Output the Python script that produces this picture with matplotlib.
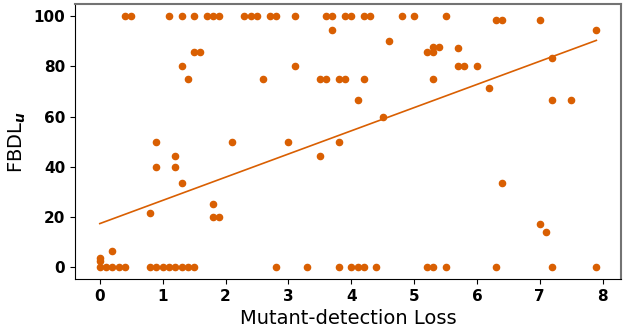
import numpy as np
import matplotlib.pyplot as plt

# Mutant-detection loss (x) vs FBDL_u (y), grouped by y level
loss_100 = [0.4, 0.5, 1.1, 1.3, 1.5, 1.7, 1.8, 1.9, 2.3, 2.4, 2.5, 2.7, 2.8, 3.1,
            3.6, 3.7, 3.9, 4.0, 4.2, 4.3, 4.8, 5.0, 5.5]
loss_0 = [0, 0.1, 0.2, 0.3, 0.4, 0.8, 0.9, 1.0, 1.1, 1.2, 1.3, 1.4, 1.5, 2.8, 3.3,
          3.8, 4.0, 4.1, 4.2, 4.4, 5.2, 5.3, 5.5, 6.3, 7.2, 7.9]
loss_other = [6.3, 6.4, 7.0, 3.7, 7.9, 4.6, 5.3, 5.4, 5.7, 1.5, 1.6, 5.2, 5.3, 7.2,
              1.3, 3.1, 5.7, 5.8, 6.0, 1.4, 2.6, 3.5, 3.6, 3.8, 3.9, 4.2, 5.3,
              6.2, 4.1, 7.2, 7.5, 4.5, 0.9, 2.1, 3.0, 3.8, 1.2, 3.5, 0.9, 1.2,
              1.3, 6.4, 1.8, 0.8, 1.8, 1.9, 7.0, 7.1, 0.2, 0, 0]
fbdl_other = [98.5, 98.5, 98.5, 94.7, 94.7, 90, 87.8, 87.8, 87.5, 85.7, 85.7, 85.7, 85.7, 83.3,
              80, 80, 80, 80, 80, 75, 75, 75, 75, 75, 75, 75, 75,
              71.4, 66.7, 66.7, 66.7, 60, 50, 50, 50, 50, 44.4, 44.4, 40, 40,
              33.3, 33.3, 25, 21.4, 20, 20, 17.2, 13.8, 6.2, 3.3, 2.2]

# trend line (intercept, slope)
trend_intercept = 17.2
trend_slope = 9.27

x = np.array(loss_100 + loss_0 + loss_other)
y = np.array([100] * len(loss_100) + [0] * len(loss_0) + fbdl_other)

color = '#d95f02'

fig, ax = plt.subplots(figsize=(6.3, 3.28), dpi=100)
fig.subplots_adjust(left=0.119, right=0.986, bottom=0.149, top=0.988)

ax.scatter(x, y, s=20, color=color, zorder=3)

xs = np.array([x.min(), x.max()])
ax.plot(xs, trend_intercept + trend_slope * xs, color=color, linewidth=1.2)

ax.set_xlabel('Mutant-detection Loss', fontsize=14)
ax.set_ylabel(r'FBDL$_{\mathbfit{u}}$', fontsize=14)
ax.set_xticks(range(0, 9))
ax.set_yticks(range(0, 101, 20))
for lab in ax.get_xticklabels() + ax.get_yticklabels():
    lab.set_fontweight('bold')
    lab.set_fontsize(11)

for side in ['top', 'right']:
    ax.spines[side].set_color('0.45')
    ax.spines[side].set_linewidth(1.5)

fig.savefig('out.png', dpi=100)
